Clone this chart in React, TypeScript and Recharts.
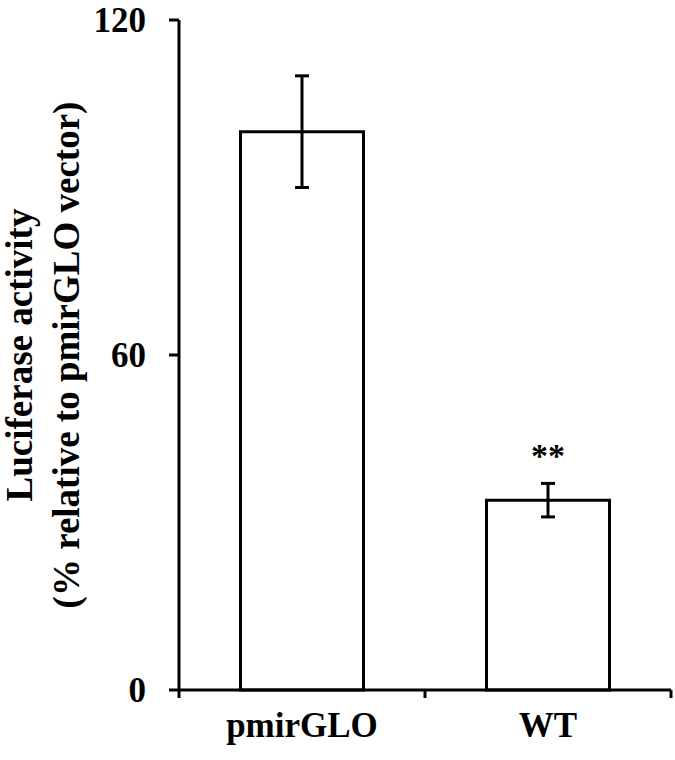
import React from 'react';
import { BarChart, Bar, XAxis, YAxis, ErrorBar, LabelList } from 'recharts';

const categories = ['pmirGLO', 'WT'];
const values = [100, 34];
const errors = [10, 3];
const marks = ['', '**'];
const yTicks = [0, 60, 120];
const yTitle = ['Luciferase activity', '(% relative to pmirGLO vector)'];

const data = categories.map((c, i) => ({ name: c, value: values[i], err: errors[i], mark: marks[i] }));

const FONT = '"Liberation Serif", "Times New Roman", serif';
const TICK_FS = 35;
const TITLE_FS = 37;

const XTick = (props: any) => {
  const { x, y, payload, index, visibleTicksCount } = props;
  const w = typeof props.width === 'number' ? props.width : 492;
  const half = w / visibleTicksCount / 2;
  return (
    <g>
      <line x1={x - half} x2={x - half} y1={y} y2={y + 8} stroke="#000" strokeWidth={3} />
      {index === visibleTicksCount - 1 && (
        <line x1={x + half} x2={x + half} y1={y} y2={y + 8} stroke="#000" strokeWidth={3} />
      )}
      <text x={x} y={y + 47} textAnchor="middle" fontFamily={FONT} fontWeight="bold" fontSize={TICK_FS} fill="#000">
        {payload.value}
      </text>
    </g>
  );
};

const YTitle = (props: any) => {
  const vb = props.viewBox || { y: 20, height: 670 };
  const cy = vb.y + vb.height / 2;
  const xs = [32, 79];
  return (
    <g>
      {yTitle.map((t, i) => (
        <text
          key={i}
          x={xs[i]}
          y={cy}
          transform={`rotate(-90, ${xs[i]}, ${cy})`}
          textAnchor="middle"
          fontFamily={FONT}
          fontWeight="bold"
          fontSize={TITLE_FS}
          fill="#000"
        >
          {t}
        </text>
      ))}
    </g>
  );
};

const MarkLabel = (props: any) => {
  const { x, y, width, height, index } = props;
  const d = data[index];
  if (!d || !d.mark) return null;
  const errTop = y - (d.err * height) / d.value;
  return (
    <text x={x + width / 2} y={errTop - 16} textAnchor="middle" fontFamily={FONT} fontWeight="bold" fontSize={34} fill="#000">
      {d.mark}
    </text>
  );
};

export default function App() {
  return (
    <div style={{ position: 'absolute', left: 0, top: 0, background: '#fff' }}>
      <BarChart
        width={675}
        height={760}
        data={data}
        margin={{ top: 20, right: 4, bottom: 0, left: 0 }}
        barCategoryGap="25%"
      >
        <XAxis
          dataKey="name"
          height={70}
          axisLine={{ stroke: '#000', strokeWidth: 3 }}
          tickLine={false}
          tickSize={0}
          tickMargin={0}
          tick={<XTick />}
          interval={0}
        />
        <YAxis
          width={179}
          domain={[0, 120]}
          ticks={yTicks}
          interval={0}
          axisLine={{ stroke: '#000', strokeWidth: 3 }}
          tickLine={{ stroke: '#000', strokeWidth: 3 }}
          tickSize={10}
          tickMargin={23}
          tick={{ fill: '#000', fontFamily: FONT, fontWeight: 'bold', fontSize: TICK_FS }}
          label={{ content: (p: any) => <YTitle {...p} /> }}
        />
        <Bar dataKey="value" fill="#fff" stroke="#000" strokeWidth={3} isAnimationActive={false}>
          <ErrorBar dataKey="err" width={7} stroke="#000" strokeWidth={3} direction="y" />
          <LabelList dataKey="mark" content={(p: any) => <MarkLabel {...p} />} />
        </Bar>
      </BarChart>
    </div>
  );
}
